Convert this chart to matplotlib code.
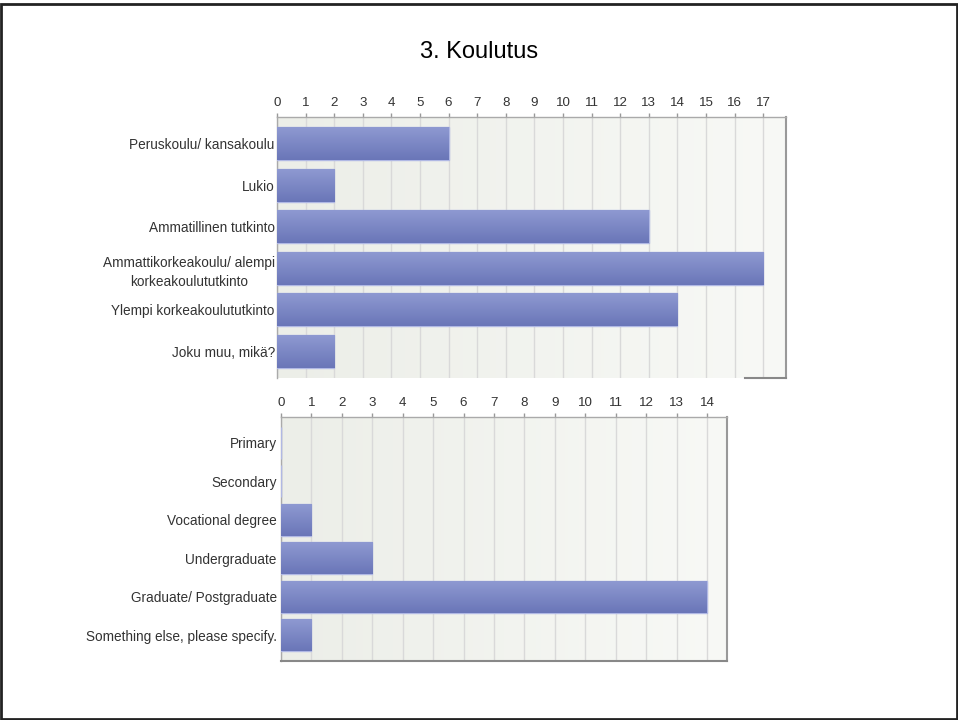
import numpy as np
import matplotlib
matplotlib.use('Agg')
import matplotlib.pyplot as plt
from matplotlib.colors import LinearSegmentedColormap
from matplotlib.patches import Rectangle

plt.rcParams['font.family'] = ['Liberation Sans', 'DejaVu Sans']

# data
fi_labels = ['Peruskoulu/ kansakoulu', 'Lukio', 'Ammatillinen tutkinto',
             'Ammattikorkeakoulu/ alempi\nkorkeakoulututkinto',
             'Ylempi korkeakoulututkinto', 'Joku muu, mikä?']
fi_values = [6, 2, 13, 17, 14, 2]

en_labels = ['Primary', 'Secondary', 'Vocational degree', 'Undergraduate',
             'Graduate/ Postgraduate', 'Something else, please specify.']
en_values = [0, 0, 1, 3, 14, 1]

bg_cmap = LinearSegmentedColormap.from_list('bg', ['#eceee8', '#f8f9f6'])
bar_cmap = LinearSegmentedColormap.from_list('bar', ['#8e99d1', '#6a76b8'])

fig = plt.figure(figsize=(9.58, 7.2), dpi=100)
fig.text(0.5, 0.928, '3. Koulutus', ha='center', va='center', fontsize=17)


def draw(rect, labels, values, xmax, nticks, margin, bh, ypad, partial_bottom=None):
    ax = fig.add_axes(rect)
    y = np.arange(len(values))
    bars = ax.barh(y, values, height=bh, color='#7a86c4', edgecolor='#b0b8e4',
                   linewidth=1, zorder=3)
    for b in bars:
        if b.get_width() <= 0:
            continue
        x0, y0 = b.get_x(), b.get_y()
        im = ax.imshow(np.linspace(0, 1, 64).reshape(-1, 1), cmap=bar_cmap,
                       aspect='auto', zorder=3.5,
                       extent=(x0, x0 + b.get_width(), y0 + b.get_height(), y0))
        im.set_clip_path(b)
    grad = np.linspace(0, 1, 256).reshape(1, -1)
    ax.imshow(grad, cmap=bg_cmap, aspect='auto', extent=(0, 1, 0, 1),
              transform=ax.transAxes, zorder=0)
    ax.set_xlim(0, xmax)
    ax.set_ylim(len(values) - 1 + margin, -margin)
    ax.set_xticks(range(nticks + 1))
    ax.xaxis.tick_top()
    ax.tick_params(axis='x', length=3, width=1, color='#999999', labelsize=9.6,
                   labelcolor='#333333', pad=3)
    ax.tick_params(axis='y', length=0, labelsize=9.8, colors='#333333', pad=ypad)
    ax.set_yticks(y)
    ax.set_yticklabels(labels, multialignment='center', linespacing=1.45)
    ax.grid(axis='x', color='#d9d9d9', linewidth=1, zorder=1)
    for s in ['top', 'left']:
        ax.spines[s].set_color('#aaaaaa')
        ax.spines[s].set_linewidth(1)
    ax.spines['right'].set_color('#999999')
    ax.spines['right'].set_linewidth(1.5)
    ax.spines['bottom'].set_color('#888888')
    ax.spines['bottom'].set_linewidth(1.5)
    if partial_bottom is not None:
        ax.spines['bottom'].set_bounds(partial_bottom, xmax)
    return ax


draw([0.2891, 0.475, 0.5314, 0.3625], fi_labels, fi_values, 17.8, 17,
     margin=0.637, bh=0.79, ypad=1.5, partial_bottom=16.35)
draw([0.2933, 0.0819, 0.4656, 0.3389], en_labels, en_values, 14.66, 14,
     margin=0.675, bh=0.83, ypad=3)

fig.patches.append(Rectangle((0.001, 0.0015), 0.998, 0.993, transform=fig.transFigure,
                             fill=False, edgecolor='#222222', linewidth=2))

fig.savefig('out.png', dpi=100)
